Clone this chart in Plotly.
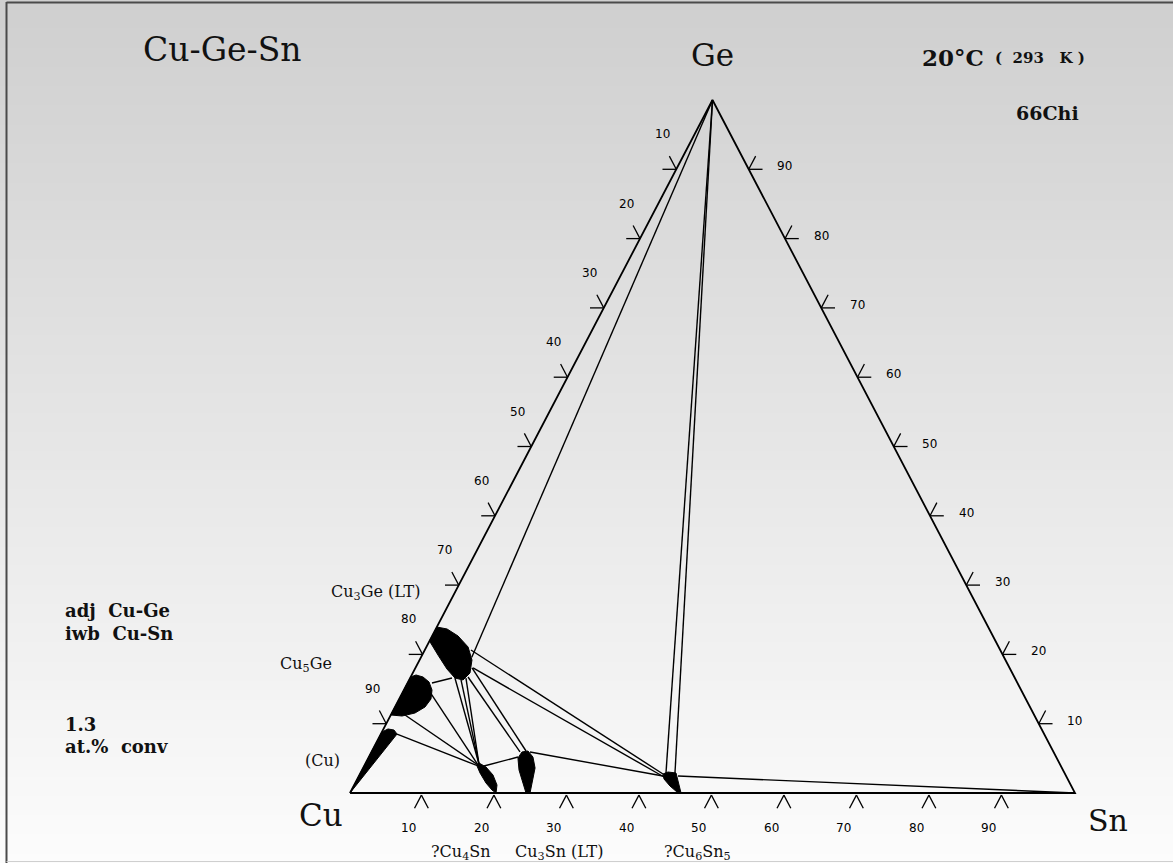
import plotly.graph_objects as go

W, H = 1173, 863

# ---- composition data: (at.% Sn, at.% Ge); Cu is the balance ----
tick_values = [10, 20, 30, 40, 50, 60, 70, 80, 90]

# single-phase fields
cu_ss_sn = [0, 0, 0.62, 1.52, 2.23, 0]
cu_ss_ge = [0, 8.80, 9.24, 9.09, 8.51, 0]

cu5ge_sn = [0, 0, 0.59, 1.70, 2.89, 3.88, 4.39, 4.14, 3.19, 1.62, 0]
cu5ge_ge = [11.26, 16.74, 17.03, 16.74, 16.02, 14.86, 13.56, 12.41, 11.54, 11.11, 11.26]

cu3ge_sn = [0, 0, 2.18, 4.43, 6.18, 7.44, 7.89, 7.23, 5.75, 3.57, 1.55, 0]
cu3ge_ge = [23.95, 21.93, 19.91, 17.89, 16.59, 16.31, 17.32, 19.19, 21.07, 22.66, 23.67, 23.95]

cu4sn_sn = [15.63, 16.88, 18.42, 19.70, 20.14, 19.37, 18.04, 16.49, 15.57, 15.63]
cu4sn_ge = [4.33, 3.75, 2.60, 1.15, 0, 0.43, 1.44, 2.89, 3.90, 4.33]

cu3sn_sn = [20.64, 20.76, 21.52, 22.64, 23.72, 24.30, 24.83, 24.28, 23.07, 21.65, 20.64]
cu3sn_ge = [5.05, 5.92, 6.06, 5.19, 3.61, 1.88, 0, 0, 1.59, 3.32, 5.05]

cu6sn5_sn = [41.80, 42.34, 43.52, 44.45, 45.66, 45.03, 43.63, 42.30, 41.80]
cu6sn5_ge = [2.74, 3.03, 2.89, 1.59, 0, 0.14, 1.01, 2.02, 2.74]

# tie lines: (Sn1, Ge1, Sn2, Ge2)
tie_lines = [
    (0, 100, 7.0, 19.6),        # Ge - Cu3Ge(LT)
    (0, 100, 42.14, 2.89),      # Ge - Cu6Sn5
    (0, 100, 43.38, 2.89),
    (6.37, 20.63, 41.80, 2.74), # Cu3Ge(LT) - Cu6Sn5
    (7.95, 18.04, 42.16, 2.31),
    (44.02, 2.45, 100, 0),      # Cu6Sn5 - Sn
    (21.87, 5.92, 41.95, 2.45), # Cu3Sn - Cu6Sn5
    (16.53, 3.90, 20.58, 5.19), # Cu4Sn - Cu3Sn
    (7.91, 16.74, 20.49, 5.92), # Cu3Ge(LT) - Cu3Sn
    (7.81, 18.04, 21.25, 6.06),
    (6.18, 16.59, 15.70, 4.18), # Cu3Ge(LT) - Cu4Sn
    (7.16, 16.31, 15.70, 4.18),
    (7.70, 16.59, 15.70, 4.18),
    (3.37, 15.87, 5.77, 16.59), # Cu5Ge - Cu3Ge(LT)
    (3.75, 14.57, 15.64, 4.04), # Cu5Ge - Cu4Sn
    (1.96, 11.26, 15.64, 4.04),
    (2.23, 8.51, 15.71, 3.90),  # (Cu) - Cu4Sn
]


def xy(sn, ge):
    """Ternary composition -> plane coordinates (x = Sn + Ge/2, y = Ge)."""
    return sn + ge / 2.0, ge


def path(sn_list, ge_list):
    xs, ys = [], []
    for s, g in zip(sn_list, ge_list):
        x, y = xy(s, g)
        xs.append(x)
        ys.append(y)
    return xs, ys


fig = go.Figure()

# triangle frame
tx, ty = path([0, 100, 0, 0], [0, 0, 100, 0])
fig.add_trace(go.Scatter(x=tx, y=ty, mode="lines",
                         line=dict(color="black", width=1.8), hoverinfo="skip"))

# tick stubs along the three edges (short grid-line pieces outside the triangle)
t_len = 1.9
sx, sy = [], []


def stub(a, b):
    p0, p1 = xy(*a), xy(*b)
    sx.extend([p0[0], p1[0], None])
    sy.extend([p0[1], p1[1], None])


for v in tick_values:
    # bottom edge (Cu-Sn): chevron with apex just below the edge
    apex = (v, -0.3)
    stub(apex, (v, -0.3 - t_len))                 # constant Sn
    stub(apex, (v + t_len, -0.3 - t_len))         # constant Cu
    # left edge (Cu-Ge): Ge = v
    stub((0, v), (-t_len, v))                     # constant Ge
    stub((0, v), (-t_len, v + t_len))             # constant Cu
    # right edge (Ge-Sn): Ge = v
    stub((100 - v, v), (100 - v + t_len, v))      # constant Ge
    stub((100 - v, v), (100 - v, v + t_len))      # constant Sn
fig.add_trace(go.Scatter(x=sx, y=sy, mode="lines",
                         line=dict(color="black", width=1.3), hoverinfo="skip"))

# tie lines
lx, ly = [], []
for s1, g1, s2, g2 in tie_lines:
    p, q = xy(s1, g1), xy(s2, g2)
    lx += [p[0], q[0], None]
    ly += [p[1], q[1], None]
fig.add_trace(go.Scatter(x=lx, y=ly, mode="lines",
                         line=dict(color="black", width=1.4), hoverinfo="skip"))

# single-phase fields (filled black)
for sn_l, ge_l in [(cu_ss_sn, cu_ss_ge), (cu5ge_sn, cu5ge_ge), (cu3ge_sn, cu3ge_ge),
                   (cu4sn_sn, cu4sn_ge), (cu3sn_sn, cu3sn_ge), (cu6sn5_sn, cu6sn5_ge)]:
    px_, py_ = path(sn_l, ge_l)
    fig.add_trace(go.Scatter(x=px_, y=py_, mode="lines", fill="toself",
                             fillcolor="black", line=dict(color="black", width=1),
                             hoverinfo="skip"))

annotations = []
tick_font = dict(family="DejaVu Sans", size=12, color="#000")
for v in tick_values:
    # bottom: at.% Sn
    bx, by = xy(v, 0)
    annotations.append(dict(x=bx, y=by, xref="x", yref="y", text=str(v), showarrow=False,
                            xshift=-14, yshift=-35, font=tick_font))
    # left: at.% Cu
    lx_, ly_ = xy(0, 100 - v)
    annotations.append(dict(x=lx_, y=ly_, xref="x", yref="y", text=str(v), showarrow=False,
                            xshift=-14, yshift=35, font=tick_font))
    # right: at.% Ge
    rx, ry = xy(100 - v, v)
    annotations.append(dict(x=rx, y=ry, xref="x", yref="y", text=str(v), showarrow=False,
                            xshift=36, yshift=3, font=tick_font))


def ptxt(px, py, text, size, family="DejaVu Serif", anchor="center", color="#111"):
    annotations.append(dict(x=px / W, y=1 - py / H, xref="paper", yref="paper", text=text,
                            showarrow=False, xanchor=anchor, yanchor="middle",
                            font=dict(family=family, size=size, color=color)))


ptxt(222, 50, "Cu-Ge-Sn", 33)
ptxt(713, 55, "Ge", 31)
ptxt(321, 815, "Cu", 31)
ptxt(1108, 820, "Sn", 30)
ptxt(953, 57, "<b>20°C</b>", 23)
ptxt(1040, 58, "<b>(  293   K )</b>", 15)
ptxt(1047, 113, "<b>66Chi</b>", 19)
ptxt(63, 610, "<b>adj  Cu-Ge</b>", 18, anchor="left")
ptxt(63, 633, "<b>iwb  Cu-Sn</b>", 18, anchor="left")
ptxt(63, 724, "<b>1.3</b>", 18, anchor="left")
ptxt(63, 746, "<b>at.%  conv</b>", 18, anchor="left")
ptxt(375, 592, "Cu<sub>3</sub>Ge (LT)", 16)
ptxt(306, 664, "Cu<sub>5</sub>Ge", 16)
ptxt(322, 760, "(Cu)", 16)
ptxt(461, 852, "?Cu<sub>4</sub>Sn", 16)
ptxt(559, 852, "Cu<sub>3</sub>Sn (LT)", 16)
ptxt(697, 852, "?Cu<sub>6</sub>Sn<sub>5</sub>", 16)

# page background: vertical grey gradient (overlapping bands) plus frame lines
shapes = []
n = 90
for i in range(n):
    y_top = 1 - i / n
    y_bot = max(0.0, 1 - (i + 1.6) / n)
    c = int(round(207 + (252 - 207) * (i + 0.5) / n))
    shapes.append(dict(type="rect", xref="paper", yref="paper", x0=0, x1=1, y0=y_bot, y1=y_top,
                       fillcolor=f"rgb({c},{c},{c})", line=dict(width=0), layer="below"))
shapes.append(dict(type="line", xref="paper", yref="paper", x0=6.5 / W, x1=6.5 / W, y0=0, y1=1 - 2 / H,
                   line=dict(color="#4a4a4a", width=2), layer="above"))
shapes.append(dict(type="line", xref="paper", yref="paper", x0=6.5 / W, x1=1, y0=1 - 2.5 / H, y1=1 - 2.5 / H,
                   line=dict(color="#4a4a4a", width=2), layer="above"))
shapes.append(dict(type="line", xref="paper", yref="paper", x0=6.5 / W, x1=1, y0=1 - 861.5 / H, y1=1 - 861.5 / H,
                   line=dict(color="#cfcfcf", width=1), layer="above"))

fig.update_layout(
    width=W, height=H, margin=dict(l=0, r=0, t=0, b=0),
    paper_bgcolor="white", plot_bgcolor="rgba(0,0,0,0)",
    showlegend=False, annotations=annotations, shapes=shapes,
    xaxis=dict(range=[-350 / 7.25, (W - 350) / 7.25], visible=False, fixedrange=True),
    yaxis=dict(range=[(793 - H) / 6.93, 793 / 6.93], visible=False, fixedrange=True),
)

fig.write_html("out.html", config=dict(displayModeBar=False))
